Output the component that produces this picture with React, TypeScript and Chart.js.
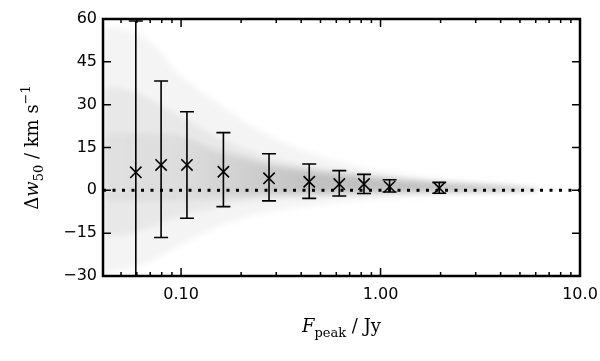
import { useEffect, useRef } from 'react';
import { Chart, registerables } from 'chart.js';

// ---- axis ranges & ticks ----
const X_MIN = 0.0406;
const X_MAX = 10;
const Y_MIN = -30;
const Y_MAX = 60;
const yTickValues = [-30, -15, 0, 15, 30, 45, 60];
const xTickValues = [0.1, 1, 10];
const xTickLabels = ['0.10', '1.00', '10.0'];

// ---- binned means with error bars ----
const binFlux = [0.0593, 0.0794, 0.107, 0.163, 0.276, 0.439, 0.621, 0.826, 1.11, 1.97];
const binMean = [6.3, 8.9, 8.9, 6.5, 4.2, 3.0, 2.2, 2.2, 1.3, 0.8];
const binLow = [-48, -16.5, -9.8, -5.7, -3.7, -2.8, -2.0, -1.1, -0.6, -1.0];
const binHigh = [59.3, 38.3, 27.5, 20.2, 12.8, 9.2, 6.9, 5.6, 3.7, 2.8];

// ---- scatter cloud envelopes (density layers) ----
const cloudFlux = [0.0406, 0.05, 0.07, 0.1, 0.15, 0.22, 0.3, 0.5, 0.8, 1.2, 2, 3, 4.5, 6.3];
const outerUpper = [57, 57, 52, 40, 31, 23, 18, 12, 8, 6, 4, 3, 2, 0.6];
const outerLower = [-29, -28, -25, -19, -13, -9, -7, -5, -3.5, -2.5, -1.8, -1.2, -0.8, -0.3];
const midUpper = [36, 36, 32, 26, 19, 14, 11, 8, 6, 4.5, 3.2, 2.4, 1.6, 0.6];
const midLower = [-16, -16, -13, -9, -6, -4, -3, -2.2, -1.6, -1.2, -0.9, -0.6, -0.4, -0.2];
const coreUpper = [20, 20, 20, 19, 14, 11, 8.5, 6.5, 5, 3.8, 2.6, 1.8, 1.2, 0.5];
const coreLower = [-4, -4, -4, -3.5, -2.5, -1.8, -1.4, -1.1, -0.9, -0.7, -0.5, -0.4, -0.3, -0.1];

const blurPlugin = {
  id: 'cloudBlur',
  beforeDatasetDraw(chart: any, args: any) {
    const ds = chart.data.datasets[args.index];
    if (ds && ds.blurCloud) {
      chart.ctx.save();
      chart.ctx.filter = 'blur(3px)';
    }
  },
  afterDatasetDraw(chart: any, args: any) {
    const ds = chart.data.datasets[args.index];
    if (ds && ds.blurCloud) chart.ctx.restore();
  },
};

Chart.register(blurPlugin as any, ...registerables);

type Seg = { t: string; it?: boolean; sub?: boolean; sup?: boolean };

function drawRich(ctx: CanvasRenderingContext2D, segs: Seg[], cx: number, cy: number, size: number, rotate: boolean) {
  const fam = '"DejaVu Serif", "Liberation Serif", serif';
  const fontFor = (s: Seg) => `${s.it ? 'italic ' : ''}${s.sub || s.sup ? Math.round(size * 0.7) : size}px ${fam}`;
  const widths = segs.map((s) => {
    ctx.font = fontFor(s);
    return ctx.measureText(s.t).width;
  });
  const total = widths.reduce((a, b) => a + b, 0);
  ctx.save();
  ctx.translate(cx, cy);
  if (rotate) ctx.rotate(-Math.PI / 2);
  ctx.fillStyle = '#000';
  ctx.textBaseline = 'alphabetic';
  ctx.textAlign = 'left';
  let x = -total / 2;
  segs.forEach((s, i) => {
    ctx.font = fontFor(s);
    const dy = s.sub ? size * 0.25 : s.sup ? -size * 0.45 : 0;
    ctx.fillText(s.t, x, dy);
    x += widths[i];
  });
  ctx.restore();
}

const decorPlugin = {
  id: 'decor',
  afterDatasetsDraw(chart: any) {
    const { ctx, chartArea: a, scales } = chart;
    const xs = scales.x;
    const ys = scales.y;
    ctx.save();
    ctx.beginPath();
    ctx.rect(a.left, a.top, a.right - a.left, a.bottom - a.top);
    ctx.clip();
    ctx.strokeStyle = '#000';
    ctx.lineWidth = 1.6;
    const cap = 7;
    for (let i = 0; i < binFlux.length; i++) {
      const px = xs.getPixelForValue(binFlux[i]);
      const pt = ys.getPixelForValue(binHigh[i]);
      const pb = ys.getPixelForValue(binLow[i]);
      ctx.beginPath();
      ctx.moveTo(px, pt);
      ctx.lineTo(px, pb);
      ctx.moveTo(px - cap, pt);
      ctx.lineTo(px + cap, pt);
      ctx.moveTo(px - cap, pb);
      ctx.lineTo(px + cap, pb);
      ctx.stroke();
    }
    ctx.restore();
  },
  afterDraw(chart: any) {
    const { ctx, chartArea: a, scales } = chart;
    const xs = scales.x;
    const ys = scales.y;
    ctx.save();
    ctx.strokeStyle = '#000';
    ctx.lineWidth = 1.5;
    ctx.beginPath();
    for (const v of yTickValues) {
      const py = ys.getPixelForValue(v);
      ctx.moveTo(a.left, py);
      ctx.lineTo(a.left + 8, py);
      ctx.moveTo(a.right, py);
      ctx.lineTo(a.right - 8, py);
    }
    for (let d = -2; d <= 1; d++) {
      for (let m = 1; m <= 9; m++) {
        const v = m * Math.pow(10, d);
        if (v < X_MIN || v > X_MAX * 1.0001) continue;
        const px = xs.getPixelForValue(v);
        const len = m === 1 ? 8 : 4;
        ctx.moveTo(px, a.bottom);
        ctx.lineTo(px, a.bottom - len);
        ctx.moveTo(px, a.top);
        ctx.lineTo(px, a.top + len);
      }
    }
    ctx.stroke();
    ctx.lineWidth = 2.5;
    ctx.strokeRect(a.left, a.top, a.right - a.left, a.bottom - a.top);
    ctx.restore();
    drawRich(ctx, [{ t: 'F', it: true }, { t: 'peak', sub: true }, { t: ' / Jy' }], (a.left + a.right) / 2, 332, 18, false);
    drawRich(
      ctx,
      [{ t: '\u0394' }, { t: 'w', it: true }, { t: '50', sub: true }, { t: ' / km s' }, { t: '\u22121', sup: true }],
      38,
      (a.top + a.bottom) / 2,
      18,
      true
    );
  },
};

function coreFill(ctx: any) {
  const chart = ctx.chart;
  const a = chart.chartArea;
  if (!a) return 'rgba(0,0,0,0.1)';
  const xs = chart.scales.x;
  const g = chart.ctx.createLinearGradient(a.left, 0, a.right, 0);
  const w = a.right - a.left;
  const stop = (v: number) => Math.min(1, Math.max(0, (xs.getPixelForValue(v) - a.left) / w));
  g.addColorStop(0, 'rgba(0,0,0,0.03)');
  g.addColorStop(stop(0.1), 'rgba(0,0,0,0.05)');
  g.addColorStop(stop(0.2), 'rgba(0,0,0,0.10)');
  g.addColorStop(stop(0.45), 'rgba(0,0,0,0.17)');
  g.addColorStop(1, 'rgba(0,0,0,0.17)');
  return g;
}

function layer(upper: number[], lower: number[], color: any, order: number) {
  return [
    {
      type: 'line',
      data: cloudFlux.map((x, i) => ({ x, y: upper[i] })),
      fill: '+1',
      backgroundColor: color,
      borderWidth: 0,
      pointRadius: 0,
      tension: 0.3,
      order,
      blurCloud: true,
    },
    {
      type: 'line',
      data: cloudFlux.map((x, i) => ({ x, y: lower[i] })),
      fill: false,
      borderWidth: 0,
      pointRadius: 0,
      tension: 0.3,
      order,
    },
  ];
}

export default function App() {
  const ref = useRef<HTMLCanvasElement | null>(null);
  useEffect(() => {
    document.body.style.margin = '0';
    const canvas = ref.current!;
    const chart = new Chart(canvas, {
      type: 'line',
      data: {
        datasets: [
          {
            type: 'line',
            data: binFlux.map((x, i) => ({ x, y: binMean[i] })),
            showLine: false,
            pointStyle: 'crossRot',
            pointRadius: 8,
            pointBorderWidth: 1.6,
            pointBorderColor: '#000',
            pointBackgroundColor: '#000',
            borderColor: '#000',
            order: 0,
          },
          {
            type: 'line',
            data: [
              { x: X_MIN, y: 0 },
              { x: X_MAX, y: 0 },
            ],
            borderColor: '#000',
            borderWidth: 3,
            borderDash: [3, 6.5],
            pointRadius: 0,
            fill: false,
            order: 1,
          },
          ...layer(outerUpper, outerLower, 'rgba(0,0,0,0.045)', 10),
          ...layer(midUpper, midLower, 'rgba(0,0,0,0.05)', 9),
          ...layer(coreUpper, coreLower, coreFill, 8),
        ] as any,
      },
      options: {
        responsive: false,
        animation: false,
        devicePixelRatio: 1,
        layout: { padding: { top: 19, right: 20, left: 0, bottom: 0 } },
        plugins: {
          legend: { display: false },
          tooltip: { enabled: false },
          filler: { propagate: false },
        },
        scales: {
          x: {
            type: 'logarithmic',
            min: X_MIN,
            max: X_MAX,
            afterBuildTicks: (s: any) => {
              s.ticks = xTickValues.map((v) => ({ value: v }));
            },
            afterFit: (s: any) => {
              s.height = 85;
              s.paddingRight = 0;
              s.paddingLeft = 0;
            },
            ticks: {
              autoSkip: false,
              maxRotation: 0,
              padding: 9,
              color: '#000',
              font: { family: '"DejaVu Sans"', size: 16 },
              callback: (_v: any, i: number) => xTickLabels[i],
            },
            grid: { display: false, drawTicks: false },
            border: { display: false },
          },
          y: {
            type: 'linear',
            min: Y_MIN,
            max: Y_MAX,
            afterBuildTicks: (s: any) => {
              s.ticks = yTickValues.map((v) => ({ value: v }));
            },
            afterFit: (s: any) => {
              s.width = 103;
              s.paddingTop = 0;
              s.paddingBottom = 0;
            },
            ticks: {
              padding: 6,
              color: '#000',
              font: { family: '"DejaVu Sans"', size: 16 },
              callback: (v: any) => (v < 0 ? '\u2212' + Math.abs(v) : String(v)),
            },
            grid: { display: false, drawTicks: false },
            border: { display: false },
          },
        },
      } as any,
      plugins: [decorPlugin as any],
    });
    return () => chart.destroy();
  }, []);
  return <canvas ref={ref} width={600} height={361} style={{ display: 'block' }} />;
}
